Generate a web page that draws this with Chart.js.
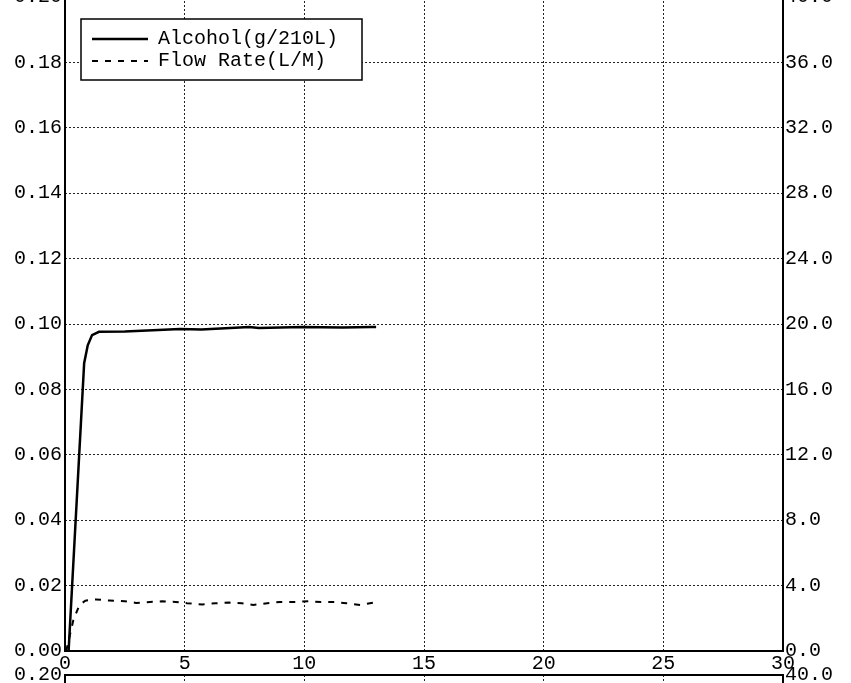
<!DOCTYPE html>
<html lang="en">
<head>
    <meta charset="UTF-8">
    <title>Alcohol and Flow Rate</title>
    <script src="https://cdn.jsdelivr.net/npm/chart.js"></script>
    <style>
        html, body { margin: 0; padding: 0; background: #fff; width: 851px; height: 683px; overflow: hidden; }
        .panel { position: absolute; left: 0; width: 851px; height: 700px; }
    </style>
</head>
<body>
    <!-- main panel, its top edge runs just off the page like the scan -->
    <div class="panel" style="top: -20px;"><canvas id="mainChart"></canvas></div>
    <!-- start of the next panel, only its top is visible -->
    <div class="panel" style="top: 658px;"><canvas id="nextChart"></canvas></div>

    <script>
        // time axis (x) and the two series
        const alcoholX = [0.15, 0.8, 0.95, 1.13, 1.42, 2.5, 3.9, 4.8, 5.7, 6.9, 7.7, 8.1, 9.9, 11.6, 12.8, 13.0];
        const alcoholY = [0, 0.088, 0.0935, 0.0966, 0.0976, 0.0977, 0.0982, 0.0985, 0.0983, 0.0988, 0.0991, 0.0988, 0.0991, 0.0989, 0.0991, 0.0991];

        const flowX = [0.05, 0.35, 0.6, 0.85, 1.3, 1.85, 2.5, 2.97, 3.55, 4.06, 4.63, 5.1, 5.73, 6.3, 6.86, 7.39, 7.87, 8.45, 8.98, 9.62, 10.17, 10.7, 11.25, 11.76, 12.33, 12.93];
        const flowY = [0, 1.9, 2.8, 3.08, 3.15, 3.09, 3.04, 2.94, 3.0, 3.04, 3.0, 2.92, 2.85, 2.92, 2.96, 2.92, 2.82, 2.92, 3.0, 3.0, 3.04, 3.0, 3.0, 2.92, 2.82, 2.96];

        const seriesLabels = ['Alcohol(g/210L)', 'Flow Rate(L/M)'];

        // tick values
        const xTicks = [0, 5, 10, 15, 20, 25, 30];
        const alcoholTicks = [0, 0.02, 0.04, 0.06, 0.08, 0.10, 0.12, 0.14, 0.16, 0.18, 0.20];
        const flowTicks = [0, 4, 8, 12, 16, 20, 24, 28, 32, 36, 40];

        Chart.defaults.font.family = "'Liberation Mono', 'DejaVu Sans Mono', monospace";
        Chart.defaults.font.size = 20;
        Chart.defaults.color = '#000';

        const toPoints = (xs, ys) => xs.map((x, i) => ({ x: x, y: ys[i] }));

        // black frame round the plot area
        const framePlugin = {
            id: 'frame',
            afterDatasetsDraw(chart) {
                const { ctx, chartArea: a } = chart;
                ctx.save();
                ctx.strokeStyle = '#000';
                ctx.lineWidth = 2;
                ctx.strokeRect(a.left, a.top, a.right - a.left, a.bottom - a.top);
                ctx.restore();
            }
        };

        // boxed legend in the top-left corner of the plot
        const boxLegend = {
            id: 'boxLegend',
            afterDraw(chart) {
                const { ctx, chartArea: a } = chart;
                const bx = a.left + 16, by = a.top + 22, bw = 281, bh = 61;
                ctx.save();
                ctx.fillStyle = '#fff';
                ctx.fillRect(bx, by, bw, bh);
                ctx.strokeStyle = '#000';
                ctx.lineWidth = 1.5;
                ctx.strokeRect(bx, by, bw, bh);
                ctx.font = "20px 'Liberation Mono', monospace";
                ctx.textBaseline = 'middle';
                chart.data.datasets.forEach((ds, i) => {
                    const y = by + 20 + i * 22;
                    ctx.strokeStyle = ds.borderColor;
                    ctx.lineWidth = ds.borderWidth;
                    ctx.setLineDash(ds.borderDash || []);
                    ctx.beginPath();
                    ctx.moveTo(bx + 11, y);
                    ctx.lineTo(bx + 67, y);
                    ctx.stroke();
                    ctx.setLineDash([]);
                    ctx.fillStyle = '#000';
                    ctx.fillText(ds.label, bx + 77, y);
                });
                ctx.restore();
            }
        };

        function makeOptions() {
            return {
                responsive: true,
                maintainAspectRatio: false,
                animation: false,
                layout: { padding: { top: 17, left: 0, right: 0, bottom: 0 } },
                plugins: { legend: { display: false }, tooltip: { enabled: false } },
                scales: {
                    x: {
                        type: 'linear',
                        min: 0,
                        max: 30,
                        afterBuildTicks: s => { s.ticks = xTicks.map(v => ({ value: v })); },
                        afterFit: s => { s.height = 29; },
                        ticks: { padding: 1, maxRotation: 0, autoSkip: false, callback: v => String(v) },
                        grid: { color: '#222', lineWidth: 1, drawTicks: false },
                        border: { display: false, dash: [2, 2] }
                    },
                    y: {
                        position: 'left',
                        min: 0,
                        max: 0.2,
                        afterBuildTicks: s => { s.ticks = alcoholTicks.map(v => ({ value: v })); },
                        afterFit: s => { s.width = 65; },
                        ticks: { padding: 3, autoSkip: false, callback: v => v.toFixed(2) },
                        grid: { color: '#222', lineWidth: 1, drawTicks: false },
                        border: { display: false, dash: [2, 2] }
                    },
                    y2: {
                        position: 'right',
                        min: 0,
                        max: 40,
                        afterBuildTicks: s => { s.ticks = flowTicks.map(v => ({ value: v })); },
                        afterFit: s => { s.width = 68; },
                        ticks: { padding: 2, autoSkip: false, callback: v => v.toFixed(1) },
                        grid: { display: false, drawTicks: false },
                        border: { display: false }
                    }
                }
            };
        }

        new Chart(document.getElementById('mainChart'), {
            type: 'line',
            data: {
                datasets: [
                    {
                        label: seriesLabels[0],
                        data: toPoints(alcoholX, alcoholY),
                        yAxisID: 'y',
                        borderColor: '#000',
                        borderWidth: 2.5,
                        pointRadius: 0,
                        tension: 0,
                        fill: false
                    },
                    {
                        label: seriesLabels[1],
                        data: toPoints(flowX, flowY),
                        yAxisID: 'y2',
                        borderColor: '#000',
                        borderWidth: 2,
                        borderDash: [6, 7],
                        pointRadius: 0,
                        tension: 0,
                        fill: false
                    }
                ]
            },
            options: makeOptions(),
            plugins: [framePlugin, boxLegend]
        });

        new Chart(document.getElementById('nextChart'), {
            type: 'line',
            data: { datasets: [] },
            options: makeOptions(),
            plugins: [framePlugin]
        });
    </script>
</body>
</html>
